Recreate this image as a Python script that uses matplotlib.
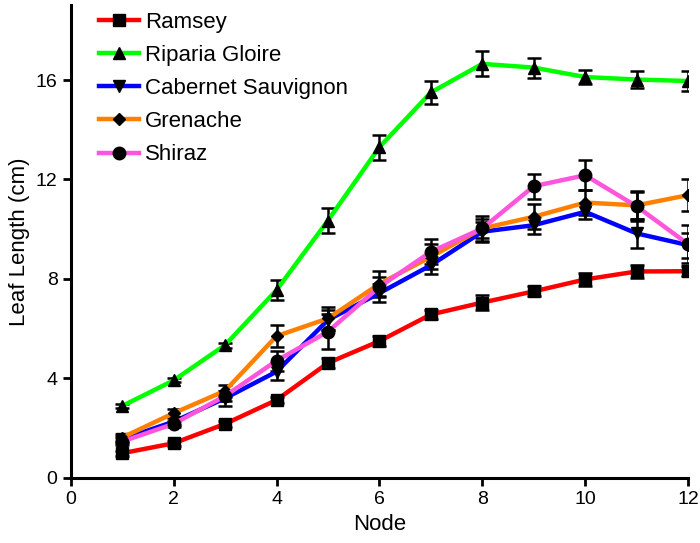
import numpy as np
import matplotlib as mpl
mpl.use('Agg')
import matplotlib.pyplot as plt

plt.rcParams['font.family'] = ['Liberation Sans', 'DejaVu Sans']

nodes = np.arange(1, 13)

ramsey = [0.99, 1.39, 2.17, 3.13, 4.62, 5.5, 6.57, 7.05, 7.5, 7.98, 8.3, 8.31]
ramsey_err = [0.1, 0.1, 0.12, 0.12, 0.2, 0.2, 0.2, 0.3, 0.2, 0.25, 0.25, 0.2]

riparia = [2.89, 3.92, 5.34, 7.55, 10.35, 13.3, 15.5, 16.65, 16.5, 16.12, 16.02, 15.96]
riparia_err = [0.08, 0.08, 0.1, 0.4, 0.5, 0.5, 0.45, 0.5, 0.4, 0.3, 0.35, 0.4]

cabernet = [1.55, 2.26, 3.2, 4.27, 6.35, 7.43, 8.55, 9.9, 10.16, 10.7, 9.83, 9.36]
cabernet_err = [0.15, 0.15, 0.3, 0.35, 0.4, 0.35, 0.35, 0.4, 0.35, 0.3, 0.57, 0.5]

grenache = [1.62, 2.6, 3.5, 5.7, 6.41, 7.8, 8.89, 10.03, 10.5, 11.07, 10.96, 11.37]
grenache_err = [0.15, 0.15, 0.25, 0.45, 0.45, 0.5, 0.5, 0.4, 0.5, 0.5, 0.55, 0.64]

shiraz = [1.46, 2.17, 3.29, 4.71, 5.88, 7.68, 9.09, 10.03, 11.73, 12.17, 10.92, 9.4]
shiraz_err = [0.15, 0.12, 0.2, 0.4, 0.7, 0.4, 0.5, 0.5, 0.5, 0.6, 0.6, 0.75]

series = [
    ('Ramsey', ramsey, ramsey_err, '#ff0000', 's', 8),
    ('Riparia Gloire', riparia, riparia_err, '#00ff00', '^', 8),
    ('Cabernet Sauvignon', cabernet, cabernet_err, '#0000ff', 'v', 8),
    ('Grenache', grenache, grenache_err, '#ff8000', 'D', 6),
    ('Shiraz', shiraz, shiraz_err, '#ff55dd', 'o', 9),
]

fig, ax = plt.subplots(figsize=(7, 5.43), dpi=100)

for name, vals, err, col, mk, ms in series:
    ax.errorbar(nodes, vals, yerr=err, color=col, lw=3.2, marker=mk, ms=ms,
                mfc='black', mec='black', ecolor='black', elinewidth=1.8,
                capsize=5, capthick=1.8, label=name)

ax.set_xlim(0, 12)
ax.set_ylim(0, 19)
ax.set_xticks(range(0, 13, 2))
ax.set_yticks(range(0, 17, 4))
ax.set_xlabel('Node', fontsize=16)
ax.set_ylabel('Leaf Length (cm)', fontsize=16)
ax.tick_params(labelsize=14, width=2, length=6)
for s in ['top', 'right']:
    ax.spines[s].set_visible(False)
for s in ['left', 'bottom']:
    ax.spines[s].set_linewidth(2.2)

handles, labels = ax.get_legend_handles_labels()
handles = [h[0] for h in handles]
ax.legend(handles, labels, loc='upper left', frameon=False, fontsize=16,
          handlelength=1.8, handletextpad=0.3, labelspacing=0.55,
          borderaxespad=0.3, bbox_to_anchor=(0.02, 1.02))

fig.subplots_adjust(left=0.101, right=0.983, top=0.99, bottom=0.12)
plt.savefig('out.png')
